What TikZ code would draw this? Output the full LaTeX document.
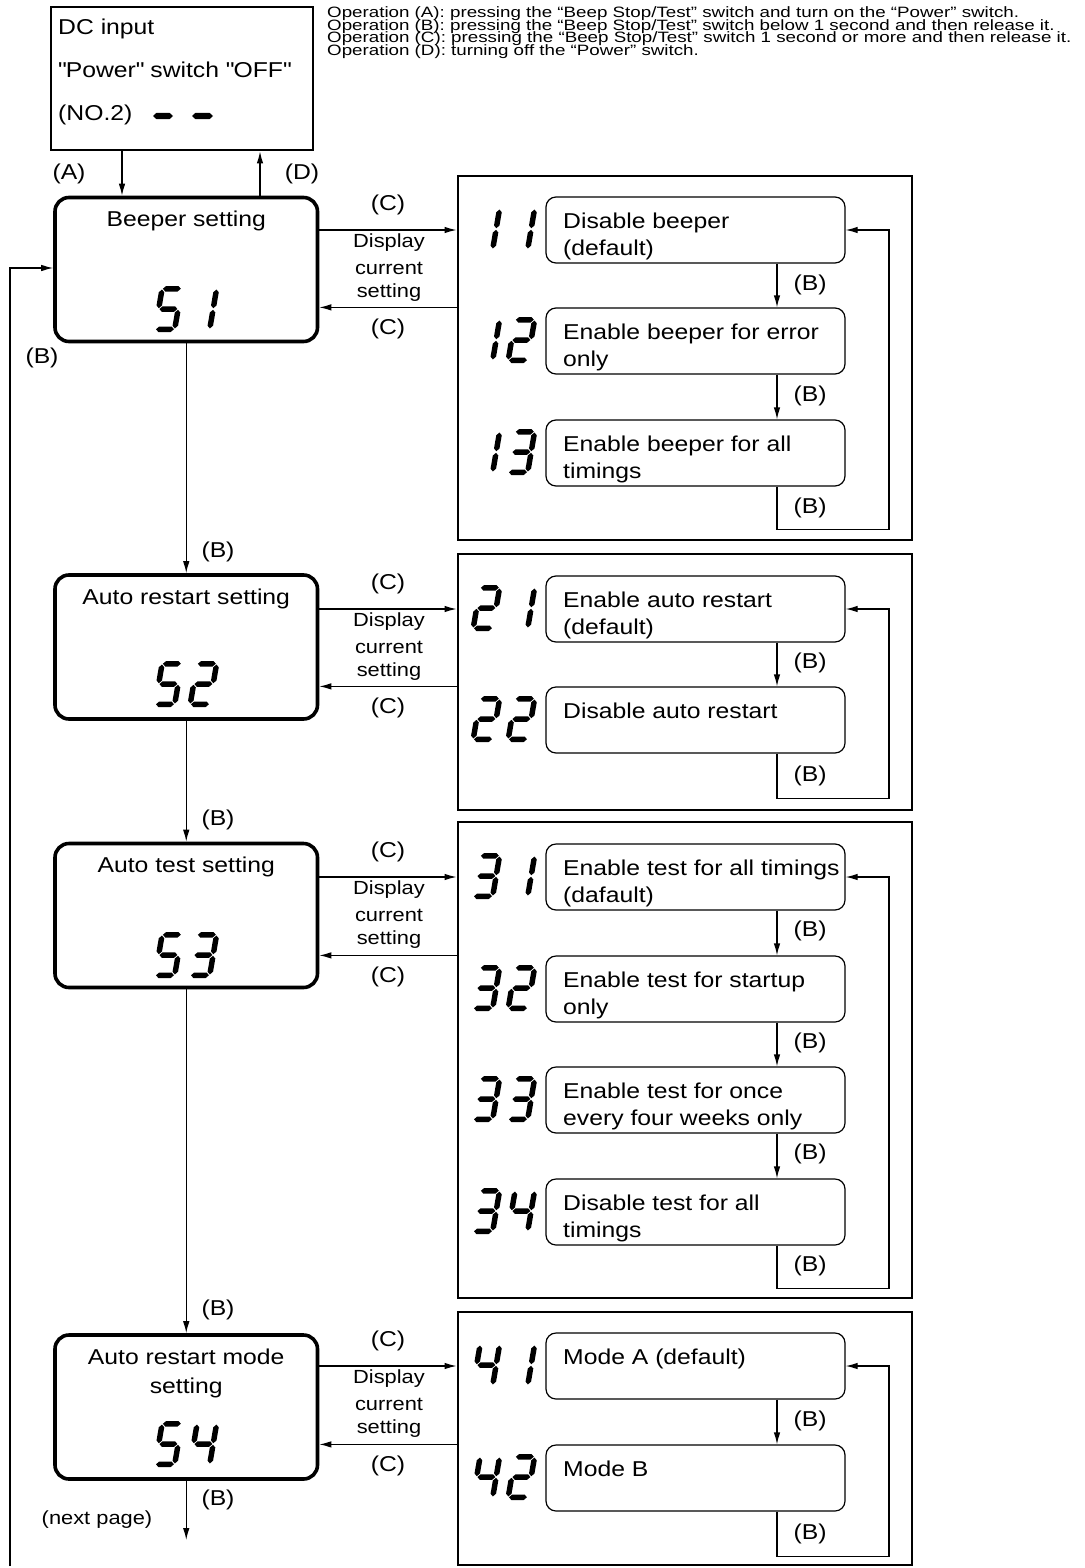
\documentclass[tikz,border=0pt]{standalone}
\usepackage{fontspec}
\setmainfont{Liberation Sans}[FakeStretch=1.15]
\newfontfamily\opfont{Liberation Sans}[FakeStretch=1.25]
\usetikzlibrary{arrows.meta}

% seven-segment pieces (local units, y up), width 25, height 46, thickness 5.5
\newcommand\segA{\fill (3.55,43.25)--(6.3,46)--(18.7,46)--(21.45,43.25)--(18.7,40.5)--(6.3,40.5)--cycle;}
\newcommand\segG{\fill (3.55,23)--(6.3,25.75)--(18.7,25.75)--(21.45,23)--(18.7,20.25)--(6.3,20.25)--cycle;}
\newcommand\segD{\fill (3.55,2.75)--(6.3,5.5)--(18.7,5.5)--(21.45,2.75)--(18.7,0)--(6.3,0)--cycle;}
\newcommand\segE{\fill (2.75,3.55)--(5.5,6.3)--(5.5,19.45)--(2.75,22.2)--(0,19.45)--(0,6.3)--cycle;}
\newcommand\segF{\fill (2.75,23.8)--(5.5,26.55)--(5.5,39.7)--(2.75,42.45)--(0,39.7)--(0,26.55)--cycle;}
\newcommand\segC{\fill (22.25,3.55)--(25,6.3)--(25,19.45)--(22.25,22.2)--(19.5,19.45)--(19.5,6.3)--cycle;}
\newcommand\segB{\fill (22.25,23.8)--(25,26.55)--(25,39.7)--(22.25,42.45)--(19.5,39.7)--(19.5,26.55)--cycle;}
\newcommand\lcddigit[3]{\begin{scope}[shift={(#1,#2)},xslant=0.17,yscale=-1]\foreach \sg in #3 {\csname seg\sg\endcsname}\end{scope}}
\newcommand\dOne{B,C}
\newcommand\dTwo{A,B,G,E,D}
\newcommand\dThree{A,B,G,C,D}
\newcommand\dFour{F,G,B,C}
\newcommand\dFive{A,F,G,C,D}
% pair of digits: x-left, y-bottom, first, second
\newcommand\lcdpair[4]{\lcddigit{#1}{#2}{#3}\lcddigit{#1+35}{#2}{#4}}

\tikzset{
  mainbox/.style={draw, line width=3.6pt, rounded corners=14pt, minimum width=262.5pt, minimum height=144pt, inner sep=0pt},
  panel/.style={draw, line width=2.8pt, minimum width=454pt, inner sep=0pt},
  optbox/.style={draw, line width=1.2pt, rounded corners=10pt, minimum width=299pt, minimum height=66pt, inner sep=0pt},
  conn/.style={line width=1.2pt, -{Latex[length=12pt,width=6.5pt]}},
  txt/.style={font=\fontsize{21.5}{26}\selectfont, inner sep=0pt},
  smalltxt/.style={font=\fontsize{19}{25}\selectfont, inner sep=0pt},
  optxt/.style={font=\opfont\fontsize{15}{12.5}\selectfont, inner sep=0pt, anchor=base west},
}

\begin{document}
\begin{tikzpicture}[x=1pt,y=-1pt]
\useasboundingbox (0,0) rectangle (1084,1568);

% ---- operation notes
\node[optxt] (opA) at (327,18) {Operation (A): pressing the “Beep Stop/Test” switch and turn on the “Power” switch.};
\node[optxt] (opB) at (327,30.5) {Operation (B): pressing the “Beep Stop/Test” switch below 1 second and then release it.};
\node[optxt] (opC) at (327,43) {Operation (C): pressing the “Beep Stop/Test” switch 1 second or more and then release it.};
\node[optxt] (opD) at (327,55.5) {Operation (D): turning off the “Power” switch.};

% ---- DC input box
\node[draw, line width=2.8pt, minimum width=262pt, minimum height=143pt, inner sep=0pt] (dc) at (182,78.5) {};
\node[txt, anchor=base west] (dct1) at (58,35) {DC input};
\node[txt, anchor=base west] (dct2) at (58,78) {\textquotedbl Power\textquotedbl{} switch \textquotedbl OFF\textquotedbl};
\node[txt, anchor=base west] (dct3) at (58,121) {(NO.2)};
\fill (153,116)--(156.5,112.8)--(169.5,112.8)--(173,116)--(169.5,119.2)--(156.5,119.2)--cycle;
\fill (192,116)--(195.5,112.8)--(209.5,112.8)--(213,116)--(209.5,119.2)--(195.5,119.2)--cycle;

% ---- main boxes
\node[mainbox] (beep) at (186.25,269.5) {};
\node[mainbox] (ar) at (186.25,647) {};
\node[mainbox] (at) at (186.25,915.5) {};
\node[mainbox] (mode) at (186.25,1407) {};

\node[txt, anchor=base] (beept) at (186.25,226) {Beeper setting};
\node[txt, anchor=base] (art) at (186.25,604) {Auto restart setting};
\node[txt, anchor=base] (att) at (186.25,872) {Auto test setting};
\node[txt, anchor=base] (modet1) at (186.25,1364) {Auto restart mode};
\node[txt, anchor=base] (modet2) at (186.25,1393) {setting};

\lcdpair{152}{332}{\dFive}{\dOne}
\lcdpair{152}{707}{\dFive}{\dTwo}
\lcdpair{152}{978}{\dFive}{\dThree}
\lcdpair{152}{1467}{\dFive}{\dFour}

% ---- DC arrows
\draw[conn] ([xshift=-60]dc.south) -- ([xshift=-60]dc.south |- beep.north);
\draw[conn] ([xshift=78]dc.south |- beep.north) -- ([xshift=78]dc.south);
\node[txt] (lA) at (69,174) {(A)};
\node[txt] (lD) at (302,174) {(D)};

% ---- vertical main flow
\draw[conn] (beep.south) -- (ar.north);
\draw[conn] (ar.south) -- (at.north);
\draw[conn] (at.south) -- (mode.north);
\coordinate (nextp) at (186.25,1540);
\draw[conn] (mode.south) -- (nextp);
\node[txt] (lB1) at (218,552) {(B)};
\node[txt] (lB2) at (218,820) {(B)};
\node[txt] (lB3) at (218,1310) {(B)};
\node[txt] (lB4) at (218,1500) {(B)};
\node[smalltxt] (np) at (97,1520) {(next page)};

% ---- left return loop
\coordinate (loopS) at (10,1566);
\coordinate (loopT) at (10,268);
\draw[conn] (loopS) -- (loopT) -- (beep.west |- loopT);
\node[txt] (lBL) at (42,358) {(B)};

% ---- panels
\node[panel, minimum height=364pt] (p1) at (685,358) {};
\node[panel, minimum height=256pt] (p2) at (685,682) {};
\node[panel, minimum height=476pt] (p3) at (685,1060) {};
\node[panel, minimum height=253pt] (p4) at (685,1438.5) {};

% ---- option boxes
\node[optbox] (o11) at (695.5,230) {};
\node[optbox] (o12) at (695.5,341) {};
\node[optbox] (o13) at (695.5,453) {};
\node[optbox] (o21) at (695.5,609) {};
\node[optbox] (o22) at (695.5,720) {};
\node[optbox] (o31) at (695.5,877) {};
\node[optbox] (o32) at (695.5,989) {};
\node[optbox] (o33) at (695.5,1100) {};
\node[optbox] (o34) at (695.5,1212) {};
\node[optbox] (o41) at (695.5,1366) {};
\node[optbox] (o42) at (695.5,1478) {};

% option texts
\node[txt, anchor=base west] (t11a) at (563,228) {Disable beeper};
\node[txt, anchor=base west] (t11b) at (563,255) {(default)};
\node[txt, anchor=base west] (t12a) at (563,339) {Enable beeper for error};
\node[txt, anchor=base west] (t12b) at (563,366) {only};
\node[txt, anchor=base west] (t13a) at (563,451) {Enable beeper for all};
\node[txt, anchor=base west] (t13b) at (563,478) {timings};
\node[txt, anchor=base west] (t21a) at (563,607) {Enable auto restart};
\node[txt, anchor=base west] (t21b) at (563,634) {(default)};
\node[txt, anchor=base west] (t22a) at (563,718) {Disable auto restart};
\node[txt, anchor=base west] (t31a) at (563,875) {Enable test for all timings};
\node[txt, anchor=base west] (t31b) at (563,902) {(dafault)};
\node[txt, anchor=base west] (t32a) at (563,987) {Enable test for startup};
\node[txt, anchor=base west] (t32b) at (563,1014) {only};
\node[txt, anchor=base west] (t33a) at (563,1098) {Enable test for once};
\node[txt, anchor=base west] (t33b) at (563,1125) {every four weeks only};
\node[txt, anchor=base west] (t34a) at (563,1210) {Disable test for all};
\node[txt, anchor=base west] (t34b) at (563,1237) {timings};
\node[txt, anchor=base west] (t41a) at (563,1364) {Mode A (default)};
\node[txt, anchor=base west] (t42a) at (563,1476) {Mode B};

% panel digits
\lcdpair{470}{252}{\dOne}{\dOne}
\lcdpair{470}{363}{\dOne}{\dTwo}
\lcdpair{470}{475}{\dOne}{\dThree}
\lcdpair{470}{631}{\dTwo}{\dOne}
\lcdpair{470}{742}{\dTwo}{\dTwo}
\lcdpair{470}{899}{\dThree}{\dOne}
\lcdpair{470}{1011}{\dThree}{\dTwo}
\lcdpair{470}{1122}{\dThree}{\dThree}
\lcdpair{470}{1234}{\dThree}{\dFour}
\lcdpair{470}{1388}{\dFour}{\dOne}
\lcdpair{470}{1500}{\dFour}{\dTwo}

% ---- arrows between option boxes and loops
\draw[conn] ([xshift=81.5]o11.south) -- ([xshift=81.5]o12.north);
\draw[conn] ([xshift=81.5]o12.south) -- ([xshift=81.5]o13.north);
\draw[conn] ([xshift=81.5]o13.south) |- ++(112,43) |- (o11.east);
\draw[conn] ([xshift=81.5]o21.south) -- ([xshift=81.5]o22.north);
\draw[conn] ([xshift=81.5]o22.south) |- ++(112,45) |- (o21.east);
\draw[conn] ([xshift=81.5]o31.south) -- ([xshift=81.5]o32.north);
\draw[conn] ([xshift=81.5]o32.south) -- ([xshift=81.5]o33.north);
\draw[conn] ([xshift=81.5]o33.south) -- ([xshift=81.5]o34.north);
\draw[conn] ([xshift=81.5]o34.south) |- ++(112,43) |- (o31.east);
\draw[conn] ([xshift=81.5]o41.south) -- ([xshift=81.5]o42.north);
\draw[conn] ([xshift=81.5]o42.south) |- ++(112,45) |- (o41.east);

\foreach \yy/\nn in {285/a,396/b,508/c,663/d,776/e,931/f,1043/g,1154/h,1266/i,1421/j,1534/k}
  \node[txt] (pb\nn) at (810,\yy) {(B)};

% ---- main box <-> panel arrows
\draw[conn] (beep.east |- o11.east) -- (p1.west |- o11.east);
\draw[conn] (p1.west |- o12.north) -- (beep.east |- o12.north);
\draw[conn] (ar.east |- o21.east) -- (p2.west |- o21.east);
\draw[conn] (p2.west |- o22.north) -- (ar.east |- o22.north);
\draw[conn] (at.east |- o31.east) -- (p3.west |- o31.east);
\draw[conn] (p3.west |- o32.north) -- (at.east |- o32.north);
\draw[conn] (mode.east |- o41.east) -- (p4.west |- o41.east);
\draw[conn] (p4.west |- o42.north) -- (mode.east |- o42.north);

\foreach \ya/\yb/\nn in {230/308/1,609/687/2,877/956/3,1366/1445/4}{
  \node[txt] (ct\nn) at (388,\ya-25) {(C)};
  \node[txt] (cb\nn) at (388,\yb+21) {(C)};
  \node[smalltxt] (d1\nn) at (389,\ya+13) {Display};
  \node[smalltxt] (d2\nn) at (389,\ya+38) {current};
  \node[smalltxt] (d3\nn) at (389,\ya+63) {setting};
}
\end{tikzpicture}
\end{document}
